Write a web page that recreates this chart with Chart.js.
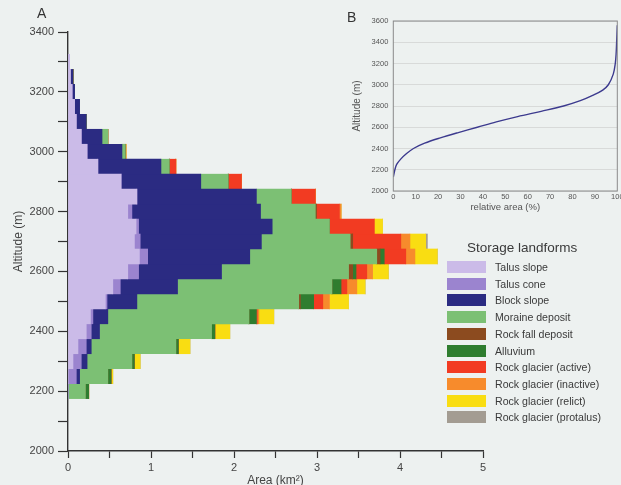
<!DOCTYPE html>
<html>
<head>
<meta charset="utf-8">
<script src="https://cdn.jsdelivr.net/npm/chart.js@4.4.1/dist/chart.umd.min.js"></script>
<style>
  body { margin: 0; background: #edf1f0; font-family: "Liberation Sans", Arial, sans-serif; }
  #wrap { position: relative; width: 621px; height: 485px; overflow: hidden; }
  canvas { position: absolute; }
  .panel { position: absolute; font-size: 14px; color: #333; line-height: 1; }
  .lg-title { position: absolute; font-size: 13.5px; color: #3a3a3a; white-space: nowrap; line-height: 1; }
  .lg-box { position: absolute; width: 39px; height: 12px; }
  .lg-text { position: absolute; font-size: 10.6px; color: #3a3a3a; white-space: nowrap; line-height: 12px; }
</style>
</head>
<body>
<div id="wrap">
  <canvas id="chartA" width="621" height="485" style="left:0;top:0"></canvas>
  <canvas id="chartB" width="296" height="215" style="left:330px;top:0"></canvas>
  <div class="panel" style="left:37px;top:6px">A</div>
  <div class="panel" style="left:347px;top:10px">B</div>
  <div id="legend"></div>
</div>
<script>
// altitude bands (bar centres, m)
const altitudes = [2200, 2250, 2300, 2350, 2400, 2450, 2500, 2550, 2600, 2650, 2700, 2750,
                   2800, 2850, 2900, 2950, 3000, 3050, 3100, 3150, 3200, 3250, 3300];

// area per landform and band (km²)
const talusSlope   = [0, 0, 0.06, 0.12, 0.22, 0.27, 0.45, 0.54, 0.72, 0.86, 0.80, 0.82, 0.72, 0.83, 0.64, 0.36, 0.23, 0.16, 0.10, 0.08, 0.05, 0.03, 0.02];
const talusCone    = [0, 0.10, 0.10, 0.10, 0.06, 0.03, 0.02, 0.09, 0.13, 0.10, 0.07, 0.03, 0.05, 0, 0, 0, 0, 0, 0, 0, 0, 0, 0];
const blockSlope   = [0, 0.04, 0.07, 0.06, 0.10, 0.18, 0.36, 0.69, 1.00, 1.23, 1.46, 1.61, 1.55, 1.44, 0.96, 0.76, 0.42, 0.25, 0.12, 0.06, 0.03, 0.03, 0];
const moraine      = [0.21, 0.34, 0.54, 1.02, 1.35, 1.70, 1.95, 1.86, 1.53, 1.53, 1.07, 0.69, 0.66, 0.42, 0.33, 0.10, 0.04, 0.07, 0, 0, 0, 0, 0];
const rockFall     = [0, 0, 0, 0, 0, 0, 0.02, 0, 0.05, 0.04, 0.03, 0, 0.01, 0, 0, 0, 0, 0, 0, 0, 0, 0, 0];
const alluvium     = [0.04, 0.04, 0.03, 0.03, 0.04, 0.09, 0.16, 0.11, 0.04, 0.05, 0, 0, 0, 0, 0, 0, 0, 0, 0, 0, 0, 0, 0];
const rgActive     = [0, 0, 0, 0, 0, 0.01, 0.11, 0.07, 0.13, 0.26, 0.58, 0.54, 0.28, 0.29, 0.16, 0.08, 0, 0, 0, 0, 0, 0, 0];
const rgInactive   = [0, 0, 0, 0, 0, 0.02, 0.08, 0.12, 0.07, 0.11, 0.11, 0, 0.02, 0, 0, 0, 0.01, 0, 0, 0, 0, 0, 0];
const rgRelict     = [0, 0.02, 0.07, 0.14, 0.18, 0.18, 0.23, 0.10, 0.19, 0.27, 0.19, 0.10, 0, 0, 0, 0, 0, 0, 0, 0, 0, 0, 0];
const rgProtalus   = [0, 0, 0, 0, 0, 0, 0, 0, 0, 0, 0.02, 0, 0, 0, 0, 0, 0, 0, 0, 0, 0, 0, 0];

const landforms = ['Talus slope', 'Talus cone', 'Block slope', 'Moraine deposit', 'Rock fall deposit',
                   'Alluvium', 'Rock glacier (active)', 'Rock glacier (inactive)', 'Rock glacier (relict)',
                   'Rock glacier (protalus)'];
const series = [talusSlope, talusCone, blockSlope, moraine, rockFall, alluvium, rgActive, rgInactive, rgRelict, rgProtalus];
const colors = ['#cbbbe8', '#9b84cf', '#2b2b82', '#7cc074', '#8c4b1f', '#2f7d2f', '#f23b22', '#f78b2c', '#f9dd12', '#a39c92'];

// hypsometric curve (panel B)
const curvePct = [0, 0.7, 1.5, 3.3, 5.8, 9, 14, 21, 29, 37.5, 46, 55.5, 66, 76, 83.5, 89, 93.5, 96, 98.2, 99.1, 99.5, 99.7, 100];
const curveAlt = [2130, 2200, 2250, 2300, 2350, 2400, 2450, 2500, 2550, 2600, 2650, 2700, 2750, 2800, 2850, 2900, 2950, 3000, 3100, 3200, 3300, 3400, 3560];

const datasetsA = landforms.map((name, i) => ({
  label: name,
  data: altitudes.map((a, j) => ({ x: series[i][j], y: a })),
  backgroundColor: colors[i],
  borderWidth: 0,
  barPercentage: 1,
  categoryPercentage: 1,
  stack: 'all'
}));

new Chart(document.getElementById('chartA'), {
  type: 'bar',
  data: { datasets: datasetsA },
  options: {
    indexAxis: 'y',
    responsive: false,
    animation: false,
    layout: { padding: { left: 0, right: 138, top: 32, bottom: 0 } },
    plugins: { legend: { display: false }, tooltip: { enabled: false } },
    scales: {
      x: {
        type: 'linear', stacked: true, min: 0, max: 5,
        ticks: { stepSize: 0.5, autoSkip: false, maxRotation: 0, padding: 3, color: '#444',
                 font: { size: 11, family: 'Liberation Sans' },
                 callback: v => Number.isInteger(v) ? v : '' },
        grid: { drawOnChartArea: false, tickLength: 7, tickColor: '#333', tickWidth: 1.2 },
        border: { color: '#333', width: 1.4 },
        title: { display: true, text: 'Area (km²)', color: '#444', padding: { top: 0, bottom: -2 },
                 font: { size: 12, family: 'Liberation Sans', lineHeight: 1 } },
        afterFit: s => { s.height = 34; }
      },
      y: {
        type: 'linear', min: 2000, max: 3400, offset: false,
        ticks: { stepSize: 100, autoSkip: false, padding: 4, color: '#444',
                 font: { size: 11, family: 'Liberation Sans' },
                 callback: v => v % 200 === 0 ? v : '' },
        grid: { offset: false, drawOnChartArea: false, tickLength: 10, tickColor: '#333', tickWidth: 1.2 },
        border: { color: '#333', width: 1.4 },
        title: { display: true, text: 'Altitude (m)', color: '#444', padding: { top: 11.5, bottom: 0 },
                 font: { size: 12, family: 'Liberation Sans' } },
        afterFit: s => { s.width = 68; }
      }
    }
  }
});

// panel B
const frame = {
  id: 'frame',
  afterDraw(c) {
    const a = c.chartArea, ctx = c.ctx;
    ctx.save();
    ctx.strokeStyle = '#8a8a8a';
    ctx.lineWidth = 1;
    ctx.strokeRect(a.left, a.top, a.right - a.left, a.bottom - a.top);
    ctx.restore();
  }
};

new Chart(document.getElementById('chartB'), {
  type: 'line',
  data: {
    datasets: [{
      data: curvePct.map((p, i) => ({ x: p, y: curveAlt[i] })),
      borderColor: '#3c3a8e',
      borderWidth: 1.4,
      pointRadius: 0,
      tension: 0.35,
      fill: false
    }]
  },
  options: {
    responsive: false,
    animation: false,
    layout: { padding: { left: 0, right: 8.7, top: 21, bottom: 0 } },
    plugins: { legend: { display: false }, tooltip: { enabled: false } },
    scales: {
      x: {
        type: 'linear', min: 0, max: 100,
        ticks: { stepSize: 10, maxRotation: 0, padding: 1.5, color: '#555', font: { size: 7.5, family: 'Liberation Sans' } },
        grid: { display: false, drawTicks: false },
        border: { display: false },
        title: { display: true, text: 'relative area (%)', color: '#555', padding: { top: 0, bottom: 2.3 },
                 font: { size: 9.5, family: 'Liberation Sans' } },
        afterFit: s => { s.height = 24; }
      },
      y: {
        type: 'linear', min: 2000, max: 3600,
        ticks: { stepSize: 200, padding: 5, color: '#555', font: { size: 7.5, family: 'Liberation Sans' }, callback: v => v },
        grid: { color: '#d2d4d3', lineWidth: 0.8, drawTicks: false },
        border: { display: false },
        title: { display: true, text: 'Altitude (m)', color: '#555', padding: { top: 21, bottom: 0 },
                 font: { size: 10, family: 'Liberation Sans' } },
        afterFit: s => { s.width = 63.3; }
      }
    }
  },
  plugins: [frame]
});

// legend
const lg = document.getElementById('legend');
const title = document.createElement('div');
title.className = 'lg-title';
title.style.left = '467px';
title.style.top = '241px';
title.textContent = 'Storage landforms';
lg.appendChild(title);
landforms.forEach((name, i) => {
  const top = 261 + i * 16.7;
  const box = document.createElement('div');
  box.className = 'lg-box';
  box.style.left = '447px';
  box.style.top = top + 'px';
  box.style.background = colors[i];
  lg.appendChild(box);
  const txt = document.createElement('div');
  txt.className = 'lg-text';
  txt.style.left = '495px';
  txt.style.top = top + 'px';
  txt.textContent = name;
  lg.appendChild(txt);
});
</script>
</body>
</html>
